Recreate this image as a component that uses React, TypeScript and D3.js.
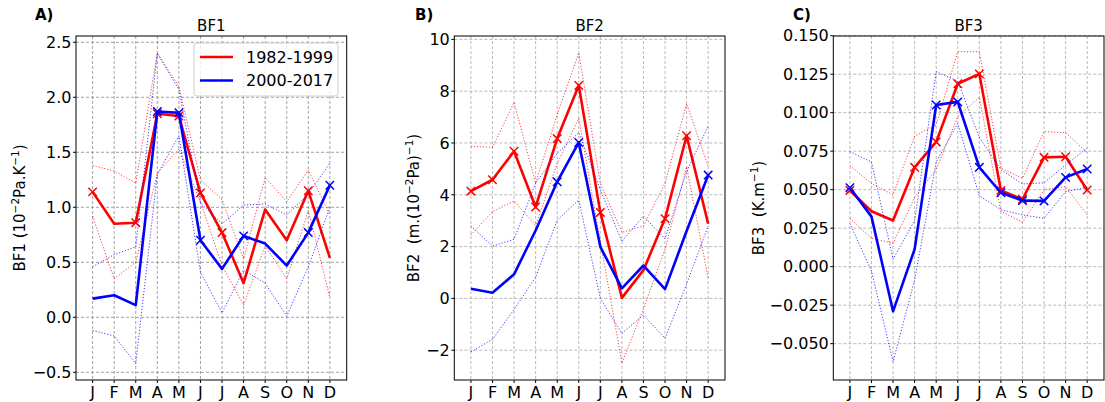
import React from "react";
import * as d3 from "d3";

// month axis shared by the three panels
const months = ["J", "F", "M", "A", "M", "J", "J", "A", "S", "O", "N", "D"];

// BF1
const bf1Early = [1.14, 0.85, 0.86, 1.85, 1.83, 1.13, 0.77, 0.31, 0.98, 0.7, 1.15, 0.54];
const bf1EarlyHi = [1.38, 1.33, 1.22, 2.4, 2.1, 1.25, 1.07, 0.53, 1.27, 1.05, 1.34, 0.93];
const bf1EarlyLo = [0.92, 0.35, 0.5, 1.31, 1.53, 1.05, 0.47, 0.11, 0.65, 0.35, 0.97, 0.18];
const bf1Late = [0.17, 0.2, 0.11, 1.87, 1.86, 0.7, 0.44, 0.74, 0.67, 0.47, 0.77, 1.2];
const bf1LateHi = [0.46, 0.57, 0.64, 2.4, 2.07, 1.04, 0.85, 1.02, 1.03, 0.93, 1.12, 1.4];
const bf1LateLo = [-0.12, -0.17, -0.42, 1.3, 1.65, 0.41, 0.04, 0.43, 0.31, 0.01, 0.46, 1.0];
const bf1EarlyMarks = [0, 2, 3, 4, 5, 6, 10];
const bf1LateMarks = [3, 4, 5, 7, 10, 11];
const bf1Ticks = [-0.5, 0, 0.5, 1, 1.5, 2, 2.5];

// BF2
const bf2Early = [4.14, 4.58, 5.68, 3.53, 6.17, 8.22, 3.32, 0.02, 1.09, 3.08, 6.28, 2.88];
const bf2EarlyHi = [5.87, 5.83, 7.57, 4.44, 7.1, 9.48, 4.44, 2.55, 2.8, 4.44, 7.52, 5.1];
const bf2EarlyLo = [2.45, 3.35, 3.76, 2.82, 5.2, 6.95, 2.2, -2.5, -0.4, 1.9, 5.08, 0.78];
const bf2Late = [0.37, 0.22, 0.93, 2.62, 4.5, 6.02, 1.99, 0.39, 1.27, 0.36, 2.6, 4.76];
const bf2LateHi = [2.8, 2.02, 2.28, 4.45, 5.6, 6.4, 4.2, 2.2, 3.18, 2.3, 4.9, 6.65];
const bf2LateLo = [-2.06, -1.58, -0.43, 0.82, 3.02, 3.8, 0.0, -1.35, -0.64, -1.54, 0.55, 2.8];
const bf2EarlyMarks = [0, 1, 2, 3, 4, 5, 6, 9, 10];
const bf2LateMarks = [4, 5, 11];
const bf2Ticks = [-2, 0, 2, 4, 6, 8, 10];

// BF3
const bf3Early = [0.0495, 0.036, 0.03, 0.0645, 0.081, 0.1188, 0.1252, 0.0495, 0.0438, 0.071, 0.0714, 0.0498];
const bf3EarlyHi = [0.0656, 0.054, 0.0466, 0.085, 0.092, 0.1396, 0.1396, 0.064, 0.0574, 0.0877, 0.087, 0.074];
const bf3EarlyLo = [0.0314, 0.0184, 0.0152, 0.045, 0.063, 0.0975, 0.11, 0.036, 0.0288, 0.05, 0.052, 0.0336];
const bf3Late = [0.0513, 0.0325, -0.029, 0.0113, 0.105, 0.107, 0.0645, 0.048, 0.0429, 0.0427, 0.058, 0.0634];
const bf3LateHi = [0.0747, 0.068, 0.0048, 0.03, 0.1266, 0.1205, 0.084, 0.063, 0.0537, 0.0545, 0.066, 0.077];
const bf3LateLo = [0.028, -0.0028, -0.0617, -0.0087, 0.068, 0.093, 0.046, 0.037, 0.0336, 0.0314, 0.0487, 0.0515];
const bf3EarlyMarks = [0, 3, 4, 5, 6, 7, 8, 9, 10, 11];
const bf3LateMarks = [0, 4, 5, 6, 7, 8, 9, 10, 11];
const bf3Ticks = [-0.05, -0.025, 0, 0.025, 0.05, 0.075, 0.1, 0.125, 0.15];

const periods = ["1982-1999", "2000-2017"];
const RED = "#ff0000";
const BLUE = "#0000ff";
const FONT = "DejaVu Sans, sans-serif";

type Seg = { t: string; sup?: boolean };

const panels = [
  {
    tag: "A)", title: "BF1", left: 76, yDomain: [-0.57, 2.557], ticks: bf1Ticks, fmt: ".1f",
    early: [bf1Early, bf1EarlyHi, bf1EarlyLo, bf1EarlyMarks],
    late: [bf1Late, bf1LateHi, bf1LateLo, bf1LateMarks],
    label: [{ t: "BF1 (10" }, { t: "\u22122", sup: true }, { t: "Pa.K" }, { t: "\u22121", sup: true }, { t: ")" }] as Seg[],
    labelX: 25, tagX: 35, grid: "#8a8a8a", legend: true,
  },
  {
    tag: "B)", title: "BF2", left: 454.3, yDomain: [-3.15, 10.13], ticks: bf2Ticks, fmt: "d",
    early: [bf2Early, bf2EarlyHi, bf2EarlyLo, bf2EarlyMarks],
    late: [bf2Late, bf2LateHi, bf2LateLo, bf2LateMarks],
    label: [{ t: "BF2\u00a0 (m.(10" }, { t: "\u22122", sup: true }, { t: "Pa)" }, { t: "\u22121", sup: true }, { t: ")" }] as Seg[],
    labelX: 419, tagX: 415, grid: "#a8a8a8", legend: false,
  },
  {
    tag: "C)", title: "BF3", left: 833.3, yDomain: [-0.0736, 0.1498], ticks: bf3Ticks, fmt: ".3f",
    early: [bf3Early, bf3EarlyHi, bf3EarlyLo, bf3EarlyMarks],
    late: [bf3Late, bf3LateHi, bf3LateLo, bf3LateMarks],
    label: [{ t: "BF3\u00a0 (K.m" }, { t: "\u22121", sup: true }, { t: ")" }] as Seg[],
    labelX: 764, tagX: 793, grid: "#a8a8a8", legend: false,
  },
];

const TOP = 36;
const BOTTOM = 380;
const AXW = 270.7;

const Panel = ({ p }: { p: (typeof panels)[number] }) => {
  const x = d3.scaleLinear().domain([-0.77, 11.78]).range([p.left, p.left + AXW]);
  const y = d3.scaleLinear().domain(p.yDomain).range([BOTTOM, TOP]);
  const line = d3.line<number>().x((_, i) => x(i)).y((v) => y(v));
  const fmt = d3.format(p.fmt);
  const cx = p.left + AXW / 2;

  const series = (s: any[], color: string) => {
    const [mid, hi, lo, marks] = s as [number[], number[], number[], number[]];
    return (
      <g>
        {[hi, lo].map((d, k) => (
          <path key={k} d={line(d) || ""} fill="none" stroke={color} strokeWidth={1}
            strokeDasharray="1.2,1.8" opacity={0.75} />
        ))}
        <path d={line(mid) || ""} fill="none" stroke={color} strokeWidth={2.6} strokeLinejoin="round" />
        {marks.map((i) => (
          <path key={i} d={`M${x(i) - 4.2},${y(mid[i]) - 4.2}L${x(i) + 4.2},${y(mid[i]) + 4.2}M${x(i) - 4.2},${y(mid[i]) + 4.2}L${x(i) + 4.2},${y(mid[i]) - 4.2}`}
            stroke={color} strokeWidth={1.5} fill="none" />
        ))}
      </g>
    );
  };

  return (
    <g fontFamily={FONT}>
      <text x={p.tagX} y={20} fontSize={15} fontWeight="bold">{p.tag}</text>
      <text x={cx} y={31} fontSize={15} textAnchor="middle">{p.title}</text>
      {/* grid */}
      <g stroke={p.grid} strokeWidth={0.8} strokeDasharray="3,2">
        {months.map((_, i) => <line key={"v" + i} x1={x(i)} x2={x(i)} y1={TOP} y2={BOTTOM} />)}
        {p.ticks.map((t) => <line key={"h" + t} x1={p.left} x2={p.left + AXW} y1={y(t)} y2={y(t)} />)}
      </g>
      {series(p.early, RED)}
      {series(p.late, BLUE)}
      <rect x={p.left} y={TOP} width={AXW} height={BOTTOM - TOP} fill="none" stroke="#000" strokeWidth={1} />
      {/* y ticks */}
      {p.ticks.map((t) => (
        <g key={"yt" + t}>
          <line x1={p.left - 3} x2={p.left} y1={y(t)} y2={y(t)} stroke="#000" />
          <text x={p.left - 4.5} y={y(t)} dy="0.36em" fontSize={16} textAnchor="end">
            {fmt(t).replace("-", "\u2212")}
          </text>
        </g>
      ))}
      {/* x ticks */}
      {months.map((m, i) => (
        <g key={"xt" + i}>
          <line x1={x(i)} x2={x(i)} y1={BOTTOM} y2={BOTTOM + 3} stroke="#000" />
          <text x={x(i)} y={398} fontSize={16} textAnchor="middle">{m}</text>
        </g>
      ))}
      <text transform={`translate(${p.labelX},${(TOP + BOTTOM) / 2}) rotate(-90)`} fontSize={15} textAnchor="middle">
        {p.label.map((s, k) => (
          <tspan key={k} dy={s.sup ? -6 : k > 0 && p.label[k - 1].sup ? 6 : 0} fontSize={s.sup ? 10.5 : 15}>{s.t}</tspan>
        ))}
      </text>
      {p.legend && (
        <g>
          <rect x={194} y={43} width={144} height={53} rx={3} fill="#fff" fillOpacity={0.8} stroke="#d0d0d0" />
          {periods.map((name, k) => (
            <g key={name}>
              <line x1={200} x2={233} y1={57 + k * 23.5} y2={57 + k * 23.5} stroke={k === 0 ? RED : BLUE} strokeWidth={2.6} />
              <text x={246} y={57 + k * 23.5} dy="0.36em" fontSize={16}>{name}</text>
            </g>
          ))}
        </g>
      )}
    </g>
  );
};

export default function App() {
  return (
    <svg width={1105} height={402} style={{ position: "absolute", left: 0, top: 0, background: "#fff" }}>
      <rect width={1105} height={402} fill="#fff" />
      {panels.map((p) => <Panel key={p.tag} p={p} />)}
    </svg>
  );
}
